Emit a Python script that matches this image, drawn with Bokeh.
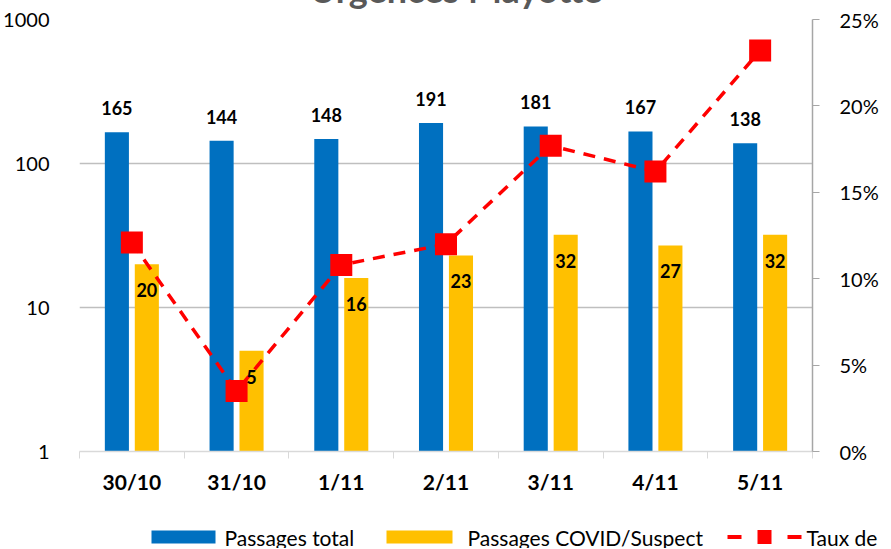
from bokeh.plotting import figure
from bokeh.layouts import column
from bokeh.models import (Range1d, LinearAxis, LinearScale, FixedTicker, CustomJSTickFormatter,
                          NumeralTickFormatter, LabelSet, ColumnDataSource)
from bokeh.core.properties import value
from bokeh.embed import file_html
from bokeh.resources import INLINE

# ---- data ----
categories = ["30/10", "31/10", "1/11", "2/11", "3/11", "4/11", "5/11"]
passages_total = [165, 144, 148, 191, 181, 167, 138]
passages_covid = [20, 5, 16, 23, 32, 27, 32]
taux_covid = [12.1, 3.5, 10.8, 12.0, 17.7, 16.2, 23.2]   # percent
left_ticks = [1, 10, 100, 1000]
right_ticks = [0, 5, 10, 15, 20, 25]
title_text = "Urgences Mayotte"
legend_labels = ["Passages total", "Passages COVID/Suspect", "Taux de COVID"]

FONT = "Lato"
BLUE = "#0070C0"
YELLOW = "#FFC000"
RED = "#FF0000"

n = len(categories)
centers = [i + 0.5 for i in range(n)]
off = 0.143
bw = 0.23

src = ColumnDataSource(dict(
    xc=centers,
    xb=[c - off for c in centers],
    xy=[c + off for c in centers],
    total=passages_total,
    covid=passages_covid,
    taux=taux_covid,
    total_lbl=[str(v) for v in passages_total],
    covid_lbl=[str(v) for v in passages_covid],
))

p = figure(frame_width=733, frame_height=432, x_range=Range1d(0, n), y_range=Range1d(1, 1000),
           y_axis_type="log", output_backend="svg", toolbar_location=None,
           min_border_left=74, min_border_right=76, min_border_top=62, min_border_bottom=72)
p.styles = {"margin-top": "-44px"}
p.outline_line_color = None
p.background_fill_color = "white"
p.border_fill_color = "white"

# title (mostly cut off at top, as in the reference)
p.title.text = title_text
p.title.text_font = FONT
p.title.text_font_style = "bold"
p.title.text_font_size = "36px"
p.title.text_color = "#595959"
p.title.align = "left"
p.title.offset = 230
p.title.standoff = 17

# x axis
xa = p.xaxis[0]
xa.ticker = FixedTicker(ticks=centers, minor_ticks=list(range(n + 1)))
xa.formatter = CustomJSTickFormatter(args=dict(labels=categories),
                                     code="return labels[Math.floor(tick)]")
xa.major_tick_line_color = None
xa.major_tick_in = 0
xa.major_tick_out = 0
xa.minor_tick_line_color = "#D9D9D9"
xa.minor_tick_in = 0
xa.minor_tick_out = 7
xa.axis_line_color = "#D9D9D9"
xa.axis_line_width = 1.5
xa.major_label_standoff = 10
xa.axis_label_standoff = 0
xa.major_label_text_font = FONT
xa.major_label_text_font_style = "bold"
xa.major_label_text_font_size = "21px"
xa.major_label_text_color = "black"

# left axis
ya = p.yaxis[0]
ya.ticker = FixedTicker(ticks=left_ticks)
ya.formatter = NumeralTickFormatter(format="0")
ya.axis_line_color = None
ya.major_tick_line_color = None
ya.minor_tick_line_color = None
ya.major_label_standoff = 24
ya.major_label_text_font = FONT
ya.major_label_text_font_size = "20px"
ya.major_label_text_color = "black"

p.xgrid.visible = False
p.ygrid.ticker = FixedTicker(ticks=left_ticks)
p.ygrid.grid_line_color = "#BFBFBF"
p.ygrid.grid_line_width = 1.5

# right axis (linear)
p.extra_y_ranges = {"pct": Range1d(0, 25)}
p.extra_y_scales = {"pct": LinearScale()}
ra = LinearAxis(y_range_name="pct", ticker=FixedTicker(ticks=right_ticks),
                formatter=CustomJSTickFormatter(code="return tick + '%'"))
ra.axis_line_color = "#A6A6A6"
ra.axis_line_width = 1.5
ra.major_tick_line_color = "#A6A6A6"
ra.major_tick_in = 0
ra.major_tick_out = 7
ra.minor_tick_line_color = None
ra.major_label_standoff = 20
ra.major_label_text_font = FONT
ra.major_label_text_font_size = "20px"
ra.major_label_text_color = "black"
p.add_layout(ra, "right")

# bars
p.vbar(x="xb", top="total", bottom=1, width=bw, source=src, fill_color=BLUE, line_color=None)
p.vbar(x="xy", top="covid", bottom=1, width=bw, source=src, fill_color=YELLOW, line_color=None)

# rate line
p.line(x="xc", y="taux", source=src, y_range_name="pct",
       line_color=RED, line_width=3.5, line_dash="12 9")
p.scatter(x="xc", y="taux", source=src, y_range_name="pct",
          marker="square", size=22, fill_color=RED, line_color=None)

# data labels
lbl_total = LabelSet(x="xb", y="total", text="total_lbl", source=src,
                     text_align="center", text_baseline="alphabetic", y_offset=17,
                     text_font=value(FONT), text_font_style="bold", text_font_size="18px",
                     text_color="black")
lbl_covid = LabelSet(x="xy", y="covid", text="covid_lbl", source=src,
                     text_align="center", text_baseline="middle", y_offset=-26,
                     text_font=value(FONT), text_font_style="bold", text_font_size="18px",
                     text_color="black")
p.add_layout(lbl_total)
p.add_layout(lbl_covid)

# ---- legend strip: small figure below the chart, 1 unit = 1 px ----
q = figure(frame_width=883, frame_height=25, x_range=Range1d(8, 891), y_range=Range1d(0, 25),
           output_backend="svg", toolbar_location=None, title=None,
           x_axis_location=None, y_axis_location=None,
           min_border_left=0, min_border_right=0, min_border_top=0, min_border_bottom=0)
q.outline_line_color = None
q.grid.visible = False
q.background_fill_color = "white"
q.border_fill_color = "white"

ly = 11.5  # vertical centre of the legend row
q.rect(x=[112], y=[ly], width=64, height=13, fill_color=BLUE, line_color=None)
q.rect(x=[348], y=[ly], width=66, height=13, fill_color=YELLOW, line_color=None)
q.segment(x0=[656, 716], y0=[ly, ly], x1=[670, 730], y1=[ly, ly],
          line_color=RED, line_width=4)
q.scatter(x=[693], y=[ly], marker="square", size=14, fill_color=RED, line_color=None)
q.text(x=[153, 396, 735], y=[ly, ly, ly], text=legend_labels,
       text_font=value(FONT), text_font_size="21px", text_baseline="middle",
       text_align="left", text_color="black")

layout = column(p, q)
layout.styles = {"margin-right": "-10px", "margin-bottom": "-20px"}

open("out.html", "w").write(file_html(layout, INLINE))
